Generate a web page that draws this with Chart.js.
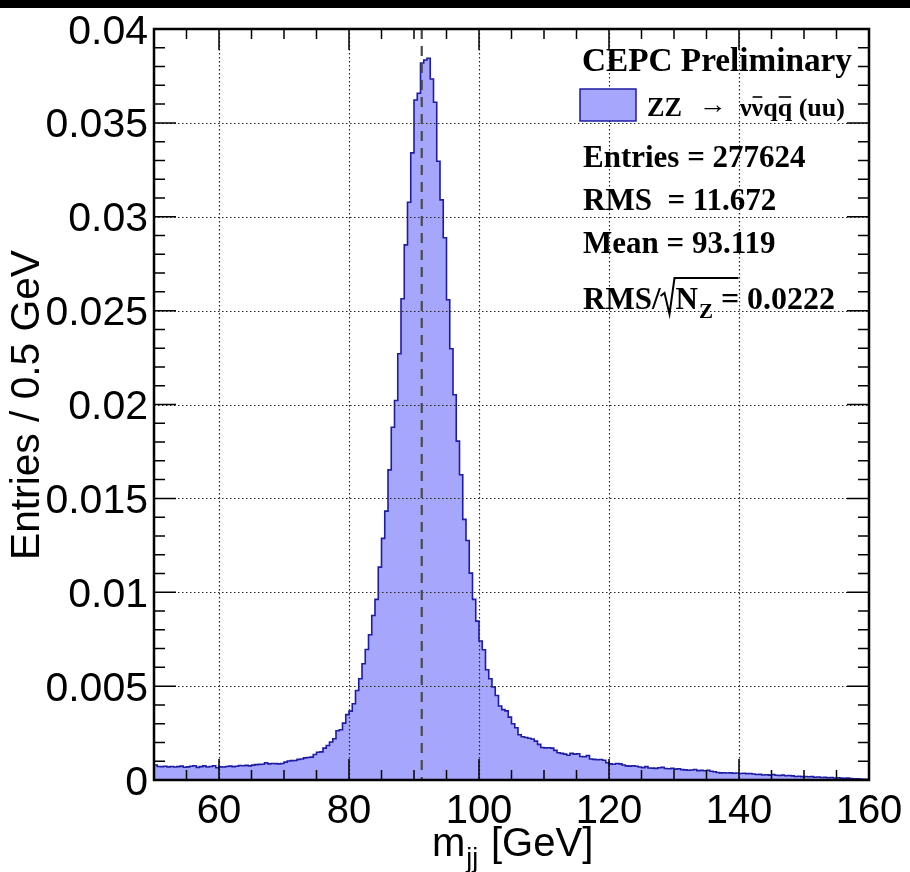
<!DOCTYPE html>
<html>
<head>
<meta charset="utf-8">
<script src="https://cdn.jsdelivr.net/npm/chart.js@4.4.0/dist/chart.umd.min.js"></script>
<style>
  html, body { margin: 0; padding: 0; background: #fff; }
  #wrap { width: 910px; height: 872px; position: relative; }
</style>
</head>
<body>
<div id="wrap"><canvas id="mjjChart" width="910" height="872"></canvas></div>
<script>
// --- histogram: m_jj, 0.5 GeV bins from 50 to 160 GeV (normalised) ---
const xMin = 50;
const xMax = 160;
const binWidth = 0.5;
const yMin = 0;
const yMax = 0.04;

const binValues = [
  0.00074, 0.00080, 0.00072, 0.00071, 0.00073, 0.00070, 0.00072, 0.00069, 0.00071, 0.00074, // 50
  0.00068, 0.00070, 0.00073, 0.00076, 0.00067, 0.00071, 0.00075, 0.00069, 0.00072, 0.00076, // 55
  0.00065, 0.00070, 0.00069, 0.00072, 0.00074, 0.00071, 0.00073, 0.00077, 0.00076, 0.00078, // 60
  0.00075, 0.00079, 0.00082, 0.00083, 0.00084, 0.00092, 0.00086, 0.00088, 0.00087, 0.00086, // 65
  0.00088, 0.00095, 0.00101, 0.00103, 0.00104, 0.00110, 0.00112, 0.00118, 0.00120, 0.00122, // 70
  0.00136, 0.00148, 0.00150, 0.00170, 0.00184, 0.00202, 0.00220, 0.00262, 0.00268, 0.00303, // 75
  0.00348, 0.00367, 0.00406, 0.00477, 0.00539, 0.00619, 0.00695, 0.00774, 0.00876, 0.00962, // 80
  0.01134, 0.01287, 0.01432, 0.01652, 0.01879, 0.02021, 0.02270, 0.02563, 0.02850, 0.03077, // 85
  0.03340, 0.03622, 0.03658, 0.03819, 0.03835, 0.03844, 0.03734, 0.03610, 0.03296, 0.03090, // 90
  0.02888, 0.02558, 0.02297, 0.02052, 0.01805, 0.01626, 0.01388, 0.01276, 0.01102, 0.00962, // 95
  0.00846, 0.00740, 0.00694, 0.00587, 0.00539, 0.00495, 0.00450, 0.00394, 0.00375, 0.00368, // 100
  0.00335, 0.00300, 0.00278, 0.00241, 0.00230, 0.00226, 0.00222, 0.00218, 0.00207, 0.00190, // 105
  0.00173, 0.00171, 0.00172, 0.00170, 0.00158, 0.00145, 0.00142, 0.00138, 0.00132, 0.00142, // 110
  0.00138, 0.00140, 0.00125, 0.00124, 0.00130, 0.00112, 0.00110, 0.00108, 0.00109, 0.00105, // 115
  0.00092, 0.00086, 0.00084, 0.00088, 0.00086, 0.00080, 0.00075, 0.00074, 0.00076, 0.00073, // 120
  0.00069, 0.00066, 0.00071, 0.00064, 0.00063, 0.00062, 0.00065, 0.00067, 0.00061, 0.00060, // 125
  0.00062, 0.00058, 0.00060, 0.00055, 0.00054, 0.00052, 0.00053, 0.00056, 0.00050, 0.00051, // 130
  0.00049, 0.00052, 0.00047, 0.00044, 0.00040, 0.00038, 0.00039, 0.00037, 0.00038, 0.00036, // 135
  0.00037, 0.00035, 0.00036, 0.00034, 0.00035, 0.00032, 0.00029, 0.00030, 0.00027, 0.00028, // 140
  0.00026, 0.00029, 0.00025, 0.00024, 0.00026, 0.00023, 0.00024, 0.00022, 0.00019, 0.00020, // 145
  0.00018, 0.00019, 0.00017, 0.00018, 0.00015, 0.00016, 0.00013, 0.00014, 0.00012, 0.00013, // 150
  0.00011, 0.00012, 0.00010, 0.00009, 0.00010, 0.00008, 0.00007, 0.00006, 0.00005, 0.00004  // 155
];

const xTickValues = [60, 80, 100, 120, 140, 160];
const xTickLabels = ['60', '80', '100', '120', '140', '160'];
const xMinorStep = 5;
const yTickValues = [0, 0.005, 0.01, 0.015, 0.02, 0.025, 0.03, 0.035, 0.04];
const yTickLabels = ['0', '0.005', '0.01', '0.015', '0.02', '0.025', '0.03', '0.035', '0.04'];
const yMinorStep = 0.001;
const zMass = 91.19;

const statLines = ['Entries = 277624', 'RMS  = 11.672', 'Mean = 93.119'];

const fillColor = '#a6a6fc';
const lineColor = '#1c1ca4';

// step points: left edge of every bin, plus the closing edge at xMax
const histPoints = binValues.map((v, i) => ({ x: xMin + i * binWidth, y: v }));
histPoints.push({ x: xMax, y: binValues[binValues.length - 1] });

// draw text, optionally squeezed/stretched along its direction to a given width
function fitText(ctx, str, x, y, font, width, align, angle) {
    ctx.save();
    ctx.font = font;
    const w = ctx.measureText(str).width;
    const sx = width ? width / w : 1;
    ctx.translate(x, y);
    if (angle) ctx.rotate(angle);
    ctx.scale(sx, 1);
    let dx = 0;
    if (align === 'right') dx = -w;
    else if (align === 'center') dx = -w / 2;
    ctx.textAlign = 'left';
    ctx.textBaseline = 'alphabetic';
    ctx.fillText(str, dx, 0);
    ctx.restore();
    return width || w;
}

const rootStyle = {
    id: 'rootStyle',
    beforeDraw(chart) {
        const ctx = chart.ctx;
        ctx.save();
        ctx.fillStyle = '#fff';
        ctx.fillRect(0, 0, chart.width, chart.height);
        ctx.fillStyle = '#000';
        ctx.fillRect(0, 0, chart.width, 8);
        ctx.restore();
    },
    afterDatasetsDraw(chart) {
        const ctx = chart.ctx;
        const xs = chart.scales.x, ys = chart.scales.y;
        const a = chart.chartArea;

        // dotted grid on top of the histogram
        ctx.save();
        ctx.strokeStyle = '#222';
        ctx.lineWidth = 1.2;
        ctx.setLineDash([1.5, 2.5]);
        xTickValues.forEach(v => {
            if (v >= xMax) return;
            const px = Math.round(xs.getPixelForValue(v)) + 0.5;
            ctx.beginPath(); ctx.moveTo(px, a.top); ctx.lineTo(px, a.bottom); ctx.stroke();
        });
        yTickValues.forEach(v => {
            if (v <= yMin || v >= yMax) return;
            const py = Math.round(ys.getPixelForValue(v)) + 0.5;
            ctx.beginPath(); ctx.moveTo(a.left, py); ctx.lineTo(a.right, py); ctx.stroke();
        });
        ctx.restore();

        // Z mass reference line
        ctx.save();
        ctx.strokeStyle = '#4a4a4a';
        ctx.lineWidth = 2.2;
        ctx.setLineDash([10, 7]);
        const zx = xs.getPixelForValue(zMass);
        ctx.beginPath(); ctx.moveTo(zx, a.top); ctx.lineTo(zx, a.bottom); ctx.stroke();
        ctx.restore();

        // ticks inside the frame, mirrored on top and right
        ctx.save();
        ctx.strokeStyle = '#000';
        ctx.lineWidth = 1.5;
        for (let v = xMin; v <= xMax + 1e-9; v += xMinorStep) {
            const px = xs.getPixelForValue(v);
            const len = (v % 20 === 0) ? 21 : 10;
            ctx.beginPath();
            ctx.moveTo(px, a.bottom); ctx.lineTo(px, a.bottom - len);
            ctx.moveTo(px, a.top); ctx.lineTo(px, a.top + len);
            ctx.stroke();
        }
        for (let k = 0; k <= Math.round((yMax - yMin) / yMinorStep); k++) {
            const v = yMin + k * yMinorStep;
            const py = ys.getPixelForValue(v);
            const len = (k % 5 === 0) ? 22 : 11;
            ctx.beginPath();
            ctx.moveTo(a.left, py); ctx.lineTo(a.left + len, py);
            ctx.moveTo(a.right, py); ctx.lineTo(a.right - len, py);
            ctx.stroke();
        }
        ctx.lineWidth = 2.5;
        ctx.strokeRect(a.left, a.top, a.right - a.left, a.bottom - a.top);
        ctx.restore();

        // tick labels
        ctx.save();
        ctx.fillStyle = '#000';
        const sans = (s) => s + 'px "Liberation Sans"';
        yTickValues.forEach((v, i) => {
            const py = ys.getPixelForValue(v);
            fitText(ctx, yTickLabels[i], a.left - 6, py + 14.5, sans(41), 0, 'right');
        });
        xTickValues.forEach((v, i) => {
            const px = xs.getPixelForValue(v);
            fitText(ctx, xTickLabels[i], px, a.bottom + 43, sans(40), 0, 'center');
        });

        // axis titles
        fitText(ctx, 'Entries / 0.5 GeV', 39, 405, sans(41), 310, 'center', -Math.PI / 2);
        let tx = 432;
        tx += fitText(ctx, 'm', tx, 856, sans(40), 0, 'left');
        fitText(ctx, 'jj', tx + 1, 867, sans(27), 0, 'left');
        fitText(ctx, '[GeV]', 491, 856, sans(40), 0, 'left');
        ctx.restore();

        // legend and statistics text
        ctx.save();
        ctx.fillStyle = '#000';
        const serifB = (s) => 'bold ' + s + 'px "Liberation Serif"';
        fitText(ctx, 'CEPC Preliminary', 582, 71, serifB(34), 270, 'left');

        ctx.fillStyle = fillColor;
        ctx.fillRect(580, 89, 56, 32);
        ctx.strokeStyle = lineColor;
        ctx.lineWidth = 1.5;
        ctx.strokeRect(580, 89, 56, 32);

        ctx.fillStyle = '#000';
        fitText(ctx, 'ZZ', 647, 116, serifB(27), 35, 'left');
        fitText(ctx, '\u2192', 699, 113, '26px "Liberation Serif"', 28, 'left');
        // nu nubar q qbar (uu)
        ctx.font = serifB(26);
        let lx = 740;
        const parts = [['\u03bd', false], ['\u03bd', true], ['q', false], ['q', true]];
        ctx.strokeStyle = '#000';
        ctx.lineWidth = 1.6;
        parts.forEach(([ch, bar]) => {
            const w = ctx.measureText(ch).width;
            ctx.fillText(ch, lx, 116);
            if (bar) {
                ctx.beginPath(); ctx.moveTo(lx + 1, 97); ctx.lineTo(lx + w - 1, 97); ctx.stroke();
            }
            lx += w;
        });
        fitText(ctx, ' (uu)', lx, 116, serifB(26), 0, 'left');

        const statY = [167, 210, 253];
        statLines.forEach((s, i) => fitText(ctx, s, 583, statY[i], serifB(31), 0, 'left'));

        // RMS / sqrt(N_Z) line
        let rx = 583;
        rx += fitText(ctx, 'RMS/', rx, 309, serifB(31), 0, 'left');
        ctx.strokeStyle = '#000';
        ctx.lineWidth = 2;
        ctx.beginPath();
        ctx.moveTo(rx, 296); ctx.lineTo(rx + 4, 293); ctx.lineTo(rx + 9, 314); ctx.lineTo(rx + 14, 278); ctx.lineTo(rx + 78, 278);
        ctx.stroke();
        rx += 15;
        rx += fitText(ctx, 'N', rx, 309, serifB(31), 0, 'left');
        rx += fitText(ctx, 'Z', rx + 1, 318, serifB(21), 0, 'left') + 1;
        fitText(ctx, ' = 0.0222', rx, 309, serifB(31), 835 - rx, 'left');
        ctx.restore();
    }
};

new Chart(document.getElementById('mjjChart'), {
    type: 'line',
    data: {
        datasets: [{
            label: 'ZZ -> vvqq (uu)',
            data: histPoints,
            stepped: 'after',
            fill: 'origin',
            backgroundColor: fillColor,
            borderColor: lineColor,
            borderWidth: 1.6,
            pointRadius: 0
        }]
    },
    options: {
        responsive: false,
        animation: false,
        devicePixelRatio: 1,
        layout: { padding: { left: 154, right: 41, top: 29, bottom: 92 } },
        plugins: { legend: { display: false }, tooltip: { enabled: false } },
        scales: {
            x: { type: 'linear', min: xMin, max: xMax, display: false },
            y: { type: 'linear', min: yMin, max: yMax, display: false }
        }
    },
    plugins: [rootStyle]
});
</script>
</body>
</html>
